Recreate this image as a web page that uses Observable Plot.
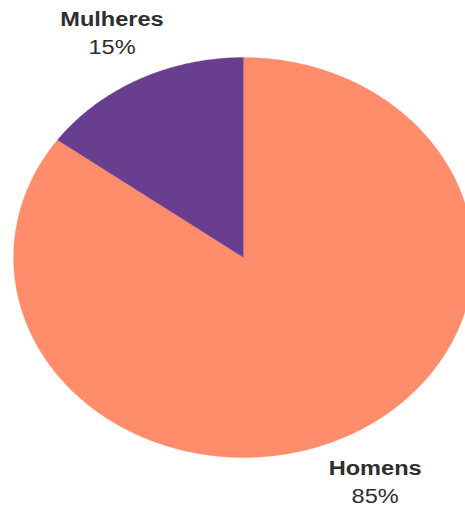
<!DOCTYPE html>
<html>
<head>
<meta charset="utf-8">
<script src="https://cdn.jsdelivr.net/npm/d3@7"></script>
<script src="https://cdn.jsdelivr.net/npm/@observablehq/plot@0.6"></script>
<style>
  html, body { margin: 0; padding: 0; background: #fff; overflow: hidden; width: 465px; height: 506px; }
  #chart svg { transform: scaleX(1.15); transform-origin: 0 0; max-width: none; overflow: visible; }
</style>
</head>
<body>
<div id="chart"></div>
<script>
const categories = ["Homens", "Mulheres"];
const values = [85, 15];
const percentLabels = ["85%", "15%"];
const colors = ["#ff8c6b", "#6a3e8e"];

const pie = d3.pie().sort(null).value(d => d.value);
const arcs = pie(categories.map((c, i) => ({category: c, value: values[i], pct: percentLabels[i]})));

// Slice outlines in unit coordinates (angle measured clockwise from 12 o'clock)
const outline = [];
arcs.forEach(a => {
  outline.push({category: a.data.category, x: 0, y: 0});
  const n = Math.max(2, Math.ceil((a.endAngle - a.startAngle) / 0.01));
  for (let k = 0; k <= n; k++) {
    const t = a.startAngle + (a.endAngle - a.startAngle) * k / n;
    outline.push({category: a.data.category, x: Math.sin(t), y: Math.cos(t)});
  }
});

const labelR = 1.26;
const labels = arcs.map(a => {
  const m = (a.startAngle + a.endAngle) / 2;
  return {category: a.data.category, pct: a.data.pct, x: labelR * Math.sin(m), y: labelR * Math.cos(m)};
});

const cx = 243 / 1.15;
const plot = Plot.plot({
  width: 404,
  height: 506,
  margin: 0,
  x: {domain: [-1, 1], range: [cx - 200, cx + 200], axis: null},
  y: {domain: [-1, 1], range: [457, 57], axis: null},
  style: {fontFamily: "'Liberation Sans', Arial, sans-serif", background: "transparent"},
  marks: [
    ...categories.map((c, i) => Plot.line(outline.filter(d => d.category === c), {
      x: "x", y: "y", fill: colors[i], stroke: colors[i], strokeWidth: 0.3, curve: "linear"
    })),
    Plot.text(labels, {x: "x", y: "y", text: "category", dy: -14, fontSize: 20.5, fontWeight: "bold", fill: "#2e2e2e", textAnchor: "middle"}),
    Plot.text(labels, {x: "x", y: "y", text: "pct", dy: 14, fontSize: 20.5, fill: "#2e2e2e", textAnchor: "middle"})
  ]
});
document.getElementById("chart").appendChild(plot);
</script>
</body>
</html>
